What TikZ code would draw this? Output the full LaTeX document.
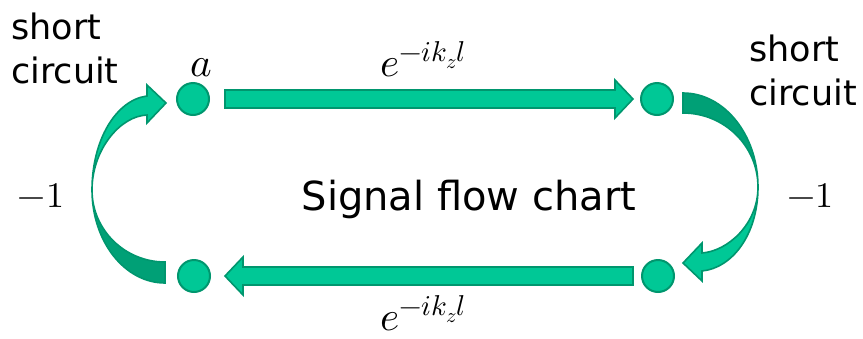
\documentclass[tikz,border=0pt]{standalone}
\usepackage{fontspec}
\usepackage{unicode-math}
\setsansfont{DejaVu Sans}
\usetikzlibrary{calc}
\definecolor{flowfill}{RGB}{0,200,150}
\definecolor{flowedge}{RGB}{0,150,110}
\definecolor{flowdark}{RGB}{0,160,118}

\begin{document}
\begin{tikzpicture}[x=1pt,y=-1pt,
  port/.style={circle, draw=flowedge, fill=flowfill, line width=2pt, minimum size=32pt, inner sep=0pt},
  flow/.style={draw=flowedge, fill=flowfill, line width=1.6pt, line join=miter},
  flowback/.style={draw=flowedge, fill=flowdark, line width=1.6pt},
  note/.style={font=\sffamily\fontsize{35}{44}\selectfont, align=left, inner sep=0pt},
  gain/.style={font=\fontsize{36}{40}\selectfont, inner sep=0pt},
  prop/.style={font=\fontsize{41}{44}\selectfont, inner sep=0pt}]
\useasboundingbox (0,0) rectangle (863,338);
\node[port] (a) at (193,99) {};
\node[port] (b) at (657,99) {};
\node[port] (c) at (658,276) {};
\node[port] (d) at (194,276) {};
\draw[flow] ($(a)+(32,-9)$) -- ($(b)+(-42,-9)$) -- ($(b)+(-42,-19)$) -- ($(b)+(-24,0)$)
  -- ($(b)+(-42,19)$) -- ($(b)+(-42,9)$) -- ($(a)+(32,9)$) -- cycle;
\draw[flow] ($(c)+(-25,-9)$) -- ($(d)+(49,-9)$) -- ($(d)+(49,-19)$) -- ($(d)+(31,0)$)
  -- ($(d)+(49,19)$) -- ($(d)+(49,9)$) -- ($(c)+(-25,9)$) -- cycle;
\draw[flowback] (165,283) .. controls (124.7,283) and (92,241.4) .. (92,190)
  .. controls (92,229.8) and (124.7,262) .. (165,262) -- cycle;
\draw[flow] (92,190) .. controls (92,140) and (116,100) .. (147,96) -- (147,85) -- (166,103)
  -- (147,123) -- (147,115) .. controls (120,116) and (92,150) .. (92,190) -- cycle;
\draw[flowback] (683,93) .. controls (724.4,93) and (758,135.1) .. (758,187)
  .. controls (758,146.1) and (724.4,113) .. (683,113) -- cycle;
\draw[flow] (758,187) .. controls (758,235) and (732,268) .. (702,271) -- (702,281) -- (683,263)
  -- (702,243) -- (702,253) .. controls (728,251) and (758,224) .. (758,187) -- cycle;
\node[note, anchor=north west] (scl) at (11,13) {short\\circuit};
\node[note, anchor=north west] (scr) at (749,35) {short\\circuit};
\node[prop, anchor=base] (lbla) at (201,76) {$a$};
\node[prop, anchor=base] (fwd) at (423,76) {$e^{-ik_zl}$};
\node[prop, anchor=base] (bwd) at (423,330) {$e^{-ik_zl}$};
\node[gain, anchor=base] (refl) at (41,207) {$-1$};
\node[gain, anchor=base] (refr) at (810,207) {$-1$};
\node[font=\sffamily\fontsize{40}{48}\selectfont, anchor=base] (title) at (469,210) {Signal flow chart};
\end{tikzpicture}
\end{document}
